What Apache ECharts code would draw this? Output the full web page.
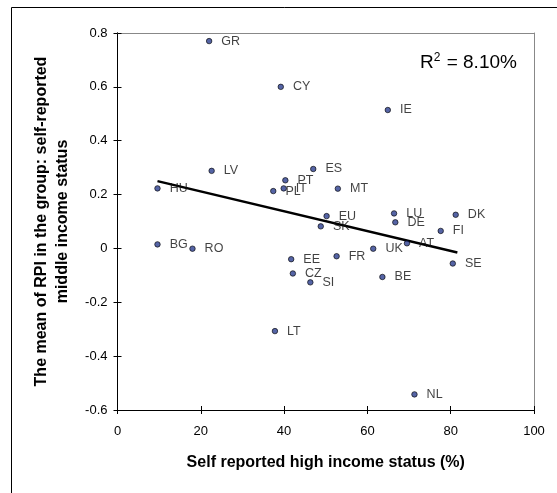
<!DOCTYPE html>
<html>
<head>
<meta charset="utf-8">
<script src="https://cdn.jsdelivr.net/npm/echarts@6/dist/echarts.min.js"></script>
<style>
  html, body { margin: 0; padding: 0; background: #fff; }
  #chart { width: 557px; height: 493px; }
</style>
</head>
<body>
<div id="chart"></div>
<script>
// Country codes
const countries = ['GR','CY','IE','LV','HU','ES','PT','PL','IT','MT','EU','SK','LU','DE','DK',
                   'FI','UK','AT','EE','FR','SE','CZ','SI','BE','LT','NL','BG','RO'];
// Self reported high income status (%)
const highIncome = [22.0, 39.2, 64.9, 22.6, 9.6, 47.0, 40.3, 37.4, 39.9, 52.9, 50.2, 48.8, 66.4, 66.7, 81.2,
                    77.6, 61.4, 69.5, 41.7, 52.6, 80.5, 42.1, 46.3, 63.6, 37.8, 71.3, 9.6, 18.0];
// Mean RPI in the self-reported middle income group
const meanRPI = [0.770, 0.600, 0.514, 0.288, 0.223, 0.295, 0.253, 0.213, 0.223, 0.222, 0.120, 0.082, 0.130, 0.097, 0.125,
                 0.065, -0.001, 0.019, -0.040, -0.029, -0.056, -0.093, -0.126, -0.106, -0.307, -0.542, 0.015, -0.001];
// Linear trend line end points
const trendX = [9.6, 81.6];
const trendY = [0.250, -0.015];
const rSquared = '8.10%';

const font = '"Liberation Sans", Arial, sans-serif';
const points = countries.map((c, i) => ({ name: c, value: [highIncome[i], meanRPI[i]] }));
const trend = trendX.map((x, i) => [x, trendY[i]]);

const chart = echarts.init(document.getElementById('chart'), null, { renderer: 'canvas' });

const xBase = { type: 'value', min: 0, max: 100, interval: 20, splitLine: { show: false } };
const yBase = { type: 'value', min: -0.6, max: 0.8, interval: 0.2, splitLine: { show: false } };
const blackLine = { show: true, onZero: false, lineStyle: { color: '#000', width: 1 } };
const greyLine = { show: true, onZero: false, lineStyle: { color: '#888', width: 1 } };

chart.setOption({
  animation: false,
  backgroundColor: '#fff',
  grid: { left: 117.5, right: 23, top: 33, bottom: 83, containLabel: false },
  xAxis: [
    // main axis with labels, ticks outward
    Object.assign({}, xBase, {
      position: 'bottom',
      name: 'Self reported high income status (%)',
      nameLocation: 'middle', nameGap: 45,
      nameTextStyle: { fontFamily: font, fontWeight: 'bold', fontSize: 16, color: '#000' },
      axisLine: blackLine,
      axisTick: { show: true, inside: false, length: 4, lineStyle: { color: '#000' } },
      axisLabel: { margin: 15, fontFamily: font, fontSize: 13, color: '#000' }
    }),
    // inward half of the crossing ticks
    Object.assign({}, xBase, {
      position: 'bottom',
      axisLine: blackLine,
      axisTick: { show: true, inside: true, length: 4, lineStyle: { color: '#000' } },
      axisLabel: { show: false }
    }),
    // plot frame, top edge
    Object.assign({}, xBase, {
      position: 'top',
      axisLine: greyLine,
      axisTick: { show: false }, axisLabel: { show: false }
    })
  ],
  yAxis: [
    Object.assign({}, yBase, {
      position: 'left',
      name: 'The mean of RPI in the group: self-reported\nmiddle income status',
      nameLocation: 'middle', nameGap: 44.5, nameRotate: 90,
      nameTextStyle: { fontFamily: font, fontWeight: 'bold', fontSize: 16, color: '#000', lineHeight: 21 },
      axisLine: blackLine,
      axisTick: { show: true, inside: false, length: 4, lineStyle: { color: '#000' } },
      axisLabel: { margin: 10, fontFamily: font, fontSize: 13, color: '#000' }
    }),
    Object.assign({}, yBase, {
      position: 'left',
      axisLine: blackLine,
      axisTick: { show: true, inside: true, length: 4, lineStyle: { color: '#000' } },
      axisLabel: { show: false }
    }),
    // plot frame, right edge
    Object.assign({}, yBase, {
      position: 'right',
      axisLine: greyLine,
      axisTick: { show: false }, axisLabel: { show: false }
    })
  ],
  series: [
    {
      type: 'line',
      data: trend,
      symbol: 'none',
      lineStyle: { color: '#000', width: 2.5 },
      z: 3,
      silent: true
    },
    {
      type: 'scatter',
      data: points,
      symbol: 'circle',
      symbolSize: 5.5,
      itemStyle: { color: '#2B3D8F', borderColor: '#000', borderWidth: 0.8 },
      label: {
        show: true, position: 'right', distance: 9,
        formatter: p => p.name,
        fontFamily: font, fontSize: 12.5, color: '#111'
      },
      z: 4
    }
  ],
  graphic: [
    {
      type: 'rect', left: 9, top: 5, silent: true,
      shape: { width: 600, height: 600 },
      style: { fill: 'none', stroke: '#000', lineWidth: 1 }
    },
    {
      type: 'text', left: 420, top: 52, silent: true,
      style: {
        text: '{r|R}{s|2}{r| = ' + rSquared + '}',
        rich: {
          r: { fontFamily: font, fontSize: 19, color: '#000', verticalAlign: 'bottom' },
          s: { fontFamily: font, fontSize: 12, color: '#000', verticalAlign: 'top', padding: [0, 1, 8, 0] }
        }
      }
    }
  ]
});
</script>
</body>
</html>
